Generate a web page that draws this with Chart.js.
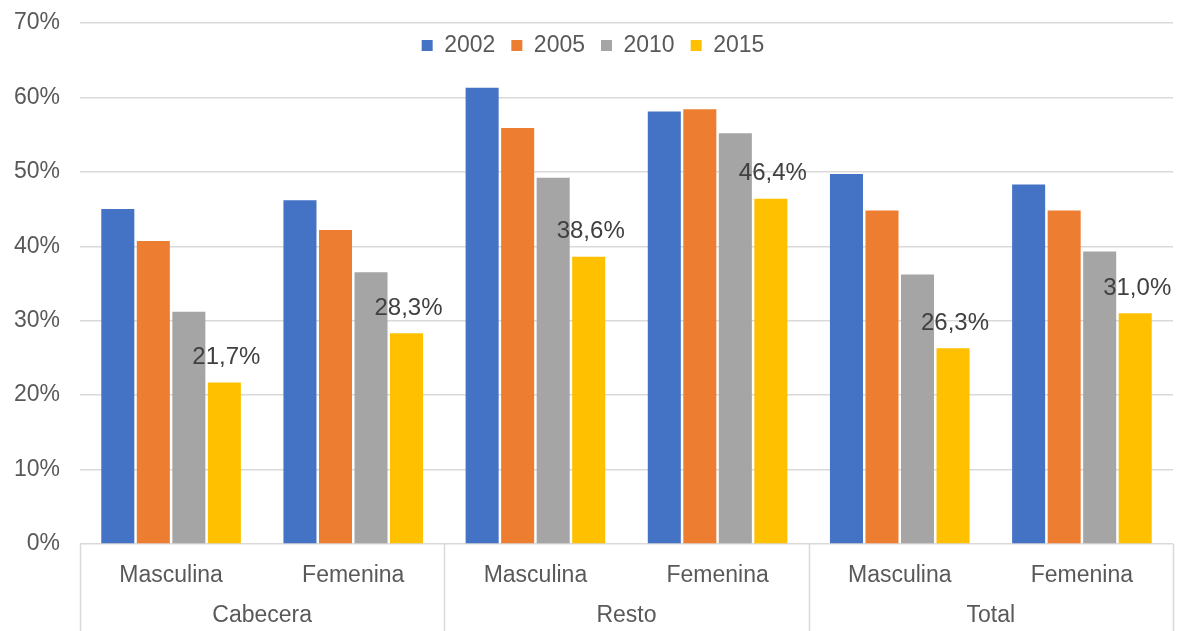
<!DOCTYPE html>
<html>
<head>
<meta charset="utf-8">
<script src="https://cdn.jsdelivr.net/npm/chart.js@4.4.1/dist/chart.umd.min.js"></script>
<style>
  html, body { margin: 0; padding: 0; background: #ffffff; }
  #wrap { width: 1180px; height: 631px; position: relative; }
</style>
</head>
<body>
<div id="wrap"><canvas id="c" width="1180" height="631"></canvas></div>
<script>
const categories = ['Masculina', 'Femenina', 'Masculina', 'Femenina', 'Masculina', 'Femenina'];
const groups = ['Cabecera', 'Resto', 'Total'];
const seriesNames = ['2002', '2005', '2010', '2015'];
const values2002 = [45.0, 46.2, 61.3, 58.1, 49.7, 48.3];
const values2005 = [40.7, 42.2, 55.9, 58.4, 44.8, 44.8];
const values2010 = [31.2, 36.5, 49.2, 55.2, 36.2, 39.3];
const values2015 = [21.7, 28.3, 38.6, 46.4, 26.3, 31.0];
const yTicks = [0, 10, 20, 30, 40, 50, 60, 70];
const colors = ['#4472C4', '#ED7D31', '#A5A5A5', '#FFC000'];

const FONT = "'Liberation Sans', Arial, sans-serif";
const FS = 23;
const GRID = '#D9D9D9';

// Legend overlaps the top of the plot area (as in the original): reserve no layout space.
const legendOverlay = {
  id: 'legendOverlay',
  beforeInit(chart) {
    const lg = chart.legend;
    const origFit = lg.fit;
    lg.fit = function () {
      origFit.call(this);
      this._realHeight = this.height;
      this.height = 0;
    };
    const origDraw = lg.draw;
    lg.draw = function () {
      this.top = 18;
      this.height = this._realHeight;
      this.bottom = this.top + this.height;
      this.left = 13;
      this.right = chart.width - 7;
      this.width = this.right - this.left;
      origDraw.call(this);
    };
  }
};

const separators = {
  id: 'separators',
  afterDraw(chart) {
    const xs = chart.scales.x;
    const ctx = chart.ctx;
    const n = categories.length;
    const step = (xs.getPixelForValue(1) - xs.getPixelForValue(0));
    ctx.save();
    ctx.strokeStyle = GRID;
    ctx.lineWidth = 1.5;
    for (let i = 0; i <= n; i += 2) {
      const x = Math.round(xs.getPixelForValue(0) - step / 2 + i * step) + 0.5;
      ctx.beginPath();
      ctx.moveTo(x, chart.chartArea.bottom);
      ctx.lineTo(x, chart.height);
      ctx.stroke();
    }
    ctx.restore();
  }
};

const lastLabels = {
  id: 'lastLabels',
  afterDatasetsDraw(chart) {
    const ctx = chart.ctx;
    const meta = chart.getDatasetMeta(3);
    ctx.save();
    ctx.font = '24px ' + FONT;
    ctx.fillStyle = '#404040';
    ctx.textAlign = 'center';
    ctx.textBaseline = 'middle';
    meta.data.forEach((el, i) => {
      const v = values2015[i].toFixed(1).replace('.', ',') + '%';
      ctx.fillText(v, el.x + 2, el.y - 25);
    });
    ctx.restore();
  }
};

const allValues = [values2002, values2005, values2010, values2015];

new Chart(document.getElementById('c'), {
  type: 'bar',
  data: {
    labels: categories,
    datasets: seriesNames.map((name, i) => ({
      label: name,
      data: allValues[i],
      backgroundColor: colors[i],
      borderWidth: 0,
      categoryPercentage: 0.78,
      barPercentage: 0.93
    }))
  },
  options: {
    responsive: false,
    animation: false,
    devicePixelRatio: 1,
    layout: { autoPadding: false, padding: { top: 23, right: 7, bottom: 2, left: 0 } },
    plugins: {
      legend: {
        position: 'top',
        align: 'center',
        labels: {
          font: { family: FONT, size: FS },
          color: '#595959',
          boxWidth: 11,
          boxHeight: 11,
          padding: 16
        }
      },
      tooltip: { enabled: false }
    },
    scales: {
      y: {
        min: 0,
        max: 70,
        afterBuildTicks(scale) { scale.ticks = yTicks.map(v => ({ value: v })); },
        afterFit(scale) {
          scale.width = 80;
          scale.paddingTop = 0;
          scale.paddingBottom = 0;
        },
        ticks: {
          font: { family: FONT, size: FS },
          color: '#595959',
          padding: 20,
          callback: v => v + '%'
        },
        grid: { color: GRID, lineWidth: 1.5, drawTicks: false },
        border: { display: false }
      },
      x: {
        weight: 0,
        afterFit(scale) { scale.height = 43; },
        ticks: {
          font: { family: FONT, size: FS },
          color: '#595959',
          padding: 18,
          maxRotation: 0,
          autoSkip: false
        },
        grid: { display: false, drawTicks: false },
        border: { display: false }
      },
      x2: {
        type: 'category',
        position: 'bottom',
        weight: 1,
        labels: groups,
        offset: true,
        afterFit(scale) { scale.height = 42; },
        ticks: {
          font: { family: FONT, size: FS },
          color: '#595959',
          padding: 15,
          maxRotation: 0,
          autoSkip: false
        },
        grid: { display: false, drawTicks: false },
        border: { display: false }
      }
    }
  },
  plugins: [legendOverlay, separators, lastLabels]
});
</script>
</body>
</html>
